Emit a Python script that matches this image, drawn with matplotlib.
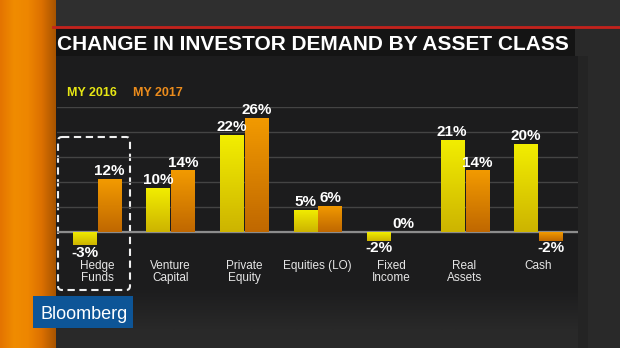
import numpy as np
import matplotlib
matplotlib.use('Agg')
import matplotlib.pyplot as plt
from matplotlib.patches import Rectangle, FancyBboxPatch
from matplotlib.colors import LinearSegmentedColormap

plt.rcParams['font.family'] = ['Liberation Sans', 'DejaVu Sans']

#############################
# Data
#############################
categories = ['Hedge\nFunds', 'Venture\nCapital', 'Private\nEquity', 'Equities (LO)',
              'Fixed\nIncome', 'Real\nAssets', 'Cash']
my2016 = [-3, 10, 22, 5, -2, 21, 20]
my2017 = [12, 14, 26, 6, 0, 14, -2]
series_names = ['MY 2016', 'MY 2017']
title = 'CHANGE IN INVESTOR DEMAND BY ASSET CLASS'

yellow_top, yellow_bot = '#f2ee00', '#cdb400'
orange_top, orange_bot = '#f29a00', '#c06800'

W, H = 620, 348
fig = plt.figure(figsize=(W/100, H/100), dpi=100)
fig.patch.set_facecolor('#292929')

#############################
# Background (pixel coordinates)
#############################
bg = fig.add_axes([0, 0, 1, 1], zorder=-1)
bg.axis('off')

bg.add_patch(Rectangle((0, 0), W, 27, color='#2f2f2f', lw=0))
bg.add_patch(Rectangle((578, 56), 10, H-56, color='#242424', lw=0))
bg.add_patch(Rectangle((55, 56), 523, 230, color='#1c1c1d', lw=0))
# fade of the panel into the background at the bottom
fade = LinearSegmentedColormap.from_list('fade', ['#1c1c1d', '#292929'])
bg.imshow(np.linspace(0, 1, 32).reshape(-1, 1), cmap=fade, origin='upper',
          extent=[55, 578, 330, 286], aspect='auto', zorder=0.5)
bg.add_patch(Rectangle((53, 29), 522, 27, color='#141414', lw=0))
bg.plot([53, W], [27, 27], color='#c4221c', lw=2)

# orange strip on the left
strip = LinearSegmentedColormap.from_list('strip', ['#e47400', '#f08c00', '#ee8600', '#dc7000', '#a85400'])
bg.imshow(np.linspace(0, 1, 64).reshape(1, -1), cmap=strip, extent=[0, 56, H, 0], aspect='auto', zorder=1)
bg.set_xlim(0, W)
bg.set_ylim(H, 0)

bg.text(57, 50, title, color='white', fontsize=15, fontweight='bold', va='baseline', ha='left')
bg.text(67, 96, series_names[0], color='#e6e614', fontsize=9, fontweight='bold', va='baseline')
bg.text(133, 96, series_names[1], color='#ec8c1c', fontsize=9, fontweight='bold', va='baseline')

# dashed highlight box
bg.add_patch(FancyBboxPatch((58, 137), 72, 153, boxstyle='round,pad=0,rounding_size=4',
                            fill=False, ec='#f0f0f0', lw=1.5, ls=(0, (3.5, 2.2)), zorder=3))

# Bloomberg logo
bg.add_patch(Rectangle((33, 296), 100, 32, color='#0d5597', lw=0, zorder=4))
bg.text(41, 319, 'Bloomberg', color='white', fontsize=13, va='baseline', zorder=5)

#############################
# Chart
#############################
ax = fig.add_axes([57/W, (H-250)/H, (578-57)/W, 143/H])
ax.set_facecolor('none')
x = np.arange(len(categories))
bw = 0.313
off = 0.17

b1 = ax.bar(x - off, my2016, bw, color=yellow_top, lw=0, zorder=2)
b2 = ax.bar(x + off, my2017, bw, color=orange_top, lw=0, zorder=2)

def gradient(bars, top, bot):
    cmap = LinearSegmentedColormap.from_list('g', [top, bot])
    for bar in bars:
        x0, y0 = bar.get_xy()
        w, h = bar.get_width(), bar.get_height()
        if h == 0:
            continue
        lo, hi = min(y0, y0+h), max(y0, y0+h)
        im = ax.imshow(np.linspace(0, 1, 64).reshape(-1, 1), cmap=cmap, origin='upper',
                       extent=[x0, x0+w, lo, hi], aspect='auto', zorder=2.5)
        im.set_clip_path(bar)

gradient(b1, yellow_top, yellow_bot)
gradient(b2, orange_top, orange_bot)

for bars, vals in ((b1, my2016), (b2, my2017)):
    ax.bar_label(bars, labels=['{}%'.format(v) for v in vals], padding=0.5,
                 color='white', fontsize=11, fontweight='bold', zorder=4)

ax.set_xlim(-0.544, 6.544)
ax.set_ylim(-4.09, 28.4)
ax.set_yticks(np.linspace(0, 28.4, 6))
ax.yaxis.grid(True, color='#444444', lw=1)
ax.set_axisbelow(True)
ax.axhline(0, color='#8c8c8c', lw=1.6, zorder=1.8)
ax.tick_params(axis='y', length=0, labelleft=False)
ax.set_xticks(x, categories, fontsize=8.5, color='#e6e6e6', linespacing=1.0)
ax.tick_params(axis='x', length=0, pad=7.5)
for s in ax.spines.values():
    s.set_visible(False)

fig.savefig('out.png', dpi=100, facecolor=fig.get_facecolor())
